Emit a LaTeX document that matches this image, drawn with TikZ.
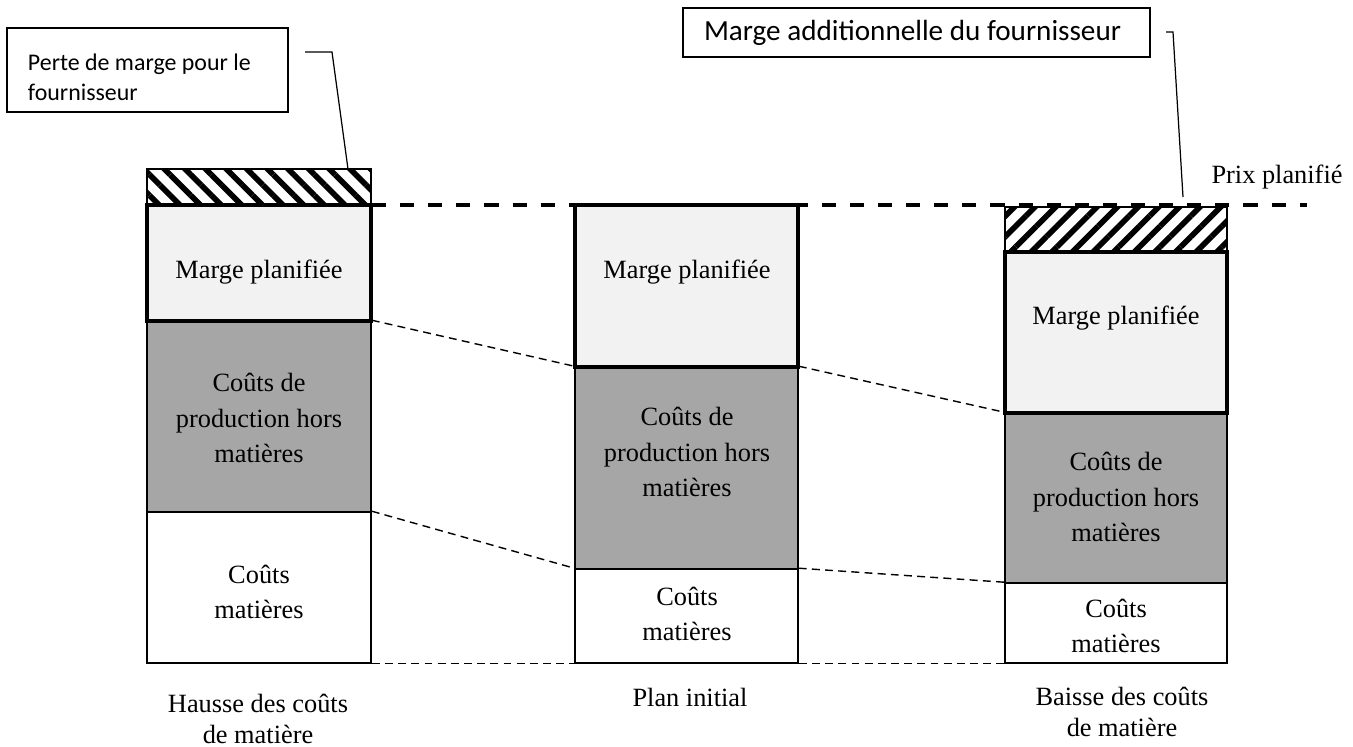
\documentclass[tikz,border=0pt]{standalone}
\usepackage{fontspec}
\setmainfont{Liberation Serif}
\newfontfamily\calibri{Carlito}
\usetikzlibrary{fit, patterns.meta}
\definecolor{xlight}{HTML}{F2F2F2}
\definecolor{xgray}{HTML}{A6A6A6}
\newcommand{\px}{0.02cm}
\tikzset{
  seg/.style = {fit={#1}, inner sep=0pt, draw, line width=0.9pt},
  hatchbox/.style = {seg={#1}, fill=white, line width=1.2pt},
  margebox/.style = {seg={#1}, fill=xlight, line width=2.8pt},
  prodbox/.style = {seg={#1}, fill=xgray},
  matbox/.style = {seg={#1}, fill=white},
  txt/.style = {align=center, font=\fontsize{15}{20}\selectfont},
  caption/.style = {align=center, font=\fontsize{15}{17.5}\selectfont},
  callout/.style = {draw, line width=0.9pt, align=flush left, inner xsep=21*\px, font=\calibri\fontsize{#1}{17}\selectfont},
  leader/.style = {line width=0.7pt},
  pricedash/.style = {line width=2pt, dash pattern=on 8pt off 8pt},
  linkdash/.style = {line width=0.8pt, dash pattern=on 4.5pt off 3pt},
}
\begin{document}
\begin{tikzpicture}[x=\px, y=-\px]
  \useasboundingbox (0,0) rectangle (1353,747);

  % hatched margins
  \node[hatchbox={(147,169)(371,205)}, pattern={Lines[angle=-45, distance=8.3pt, line width=3.2pt]}] (hL) {};
  \node[hatchbox={(1005,207)(1227,252)}, pattern={Lines[angle=45, distance=8.3pt, line width=3.2pt]}] (hR) {};

  % cost blocks
  \node[prodbox={(147,321)(371,512)}] (pL) {};
  \node[matbox={(147,512)(371,663)}] (aL) {};
  \node[prodbox={(575,367)(798,569)}] (pM) {};
  \node[matbox={(575,569)(798,663)}] (aM) {};
  \node[prodbox={(1005,413)(1227,583)}] (pR) {};
  \node[matbox={(1005,583)(1227,663)}] (aR) {};

  % planned price
  \coordinate (prixA) at (372,205);
  \coordinate (prixB) at (1307,205);
  \draw[pricedash] (prixA) -- (prixB);
  \node[txt] (tprix) at (1277,177) {Prix planifié};

  % planned margins
  \node[margebox={(147,205)(371,321)}] (mL) {};
  \node[margebox={(575,205)(798,367)}] (mM) {};
  \node[margebox={(1005,252)(1227,413)}] (mR) {};

  % links between bars
  \draw[linkdash] (pL.north east) -- (pM.north west);
  \draw[linkdash] (pM.north east) -- (pR.north west);
  \draw[linkdash] (aL.north east) -- (aM.north west);
  \draw[linkdash] (aM.north east) -- (aR.north west);
  \draw[linkdash] (aL.south east) -- (aM.south west);
  \draw[linkdash] (aM.south east) -- (aR.south west);

  % block texts
  \node[txt] (tmL) at (259,272) {Marge planifiée};
  \node[txt] (tmM) at (687,272) {Marge planifiée};
  \node[txt] (tmR) at (1116,318) {Marge planifiée};
  \node[txt] (tpL) at (259,418) {Coûts de\\production hors\\matières};
  \node[txt] (tpM) at (687,452) {Coûts de\\production hors\\matières};
  \node[txt] (tpR) at (1116,497) {Coûts de\\production hors\\matières};
  \node[txt] (taL) at (259,592) {Coûts\\matières};
  \node[txt] (taM) at (687,614) {Coûts\\matières};
  \node[txt] (taR) at (1116,626) {Coûts\\matières};

  % captions
  \node[caption] (cL) at (258,719) {Hausse des coûts\\de matière};
  \node[caption] (cM) at (690,697) {Plan initial};
  \node[caption] (cR) at (1122,712) {Baisse des coûts\\de matière};

  % callouts
  \node[callout=13.6, minimum width=281*\px, minimum height=84*\px, text width=239*\px] (perte) at (147.5,70) {\rule{0pt}{18pt}Perte de marge pour le\\fournisseur};
  \node[callout=16.6, minimum width=467*\px, minimum height=49*\px, text width=425*\px] (addit) at (916.5,32.5) {Marge additionnelle du fournisseur};
  \coordinate (perteA) at (305,52);
  \coordinate (perteB) at (348,169);
  \draw[leader] (perteA) -- (332,52) -- (perteB);
  \coordinate (additA) at (1166,32);
  \coordinate (additB) at (1183,197);
  \draw[leader] (additA) -- (1173,32) -- (additB);
\end{tikzpicture}
\end{document}
